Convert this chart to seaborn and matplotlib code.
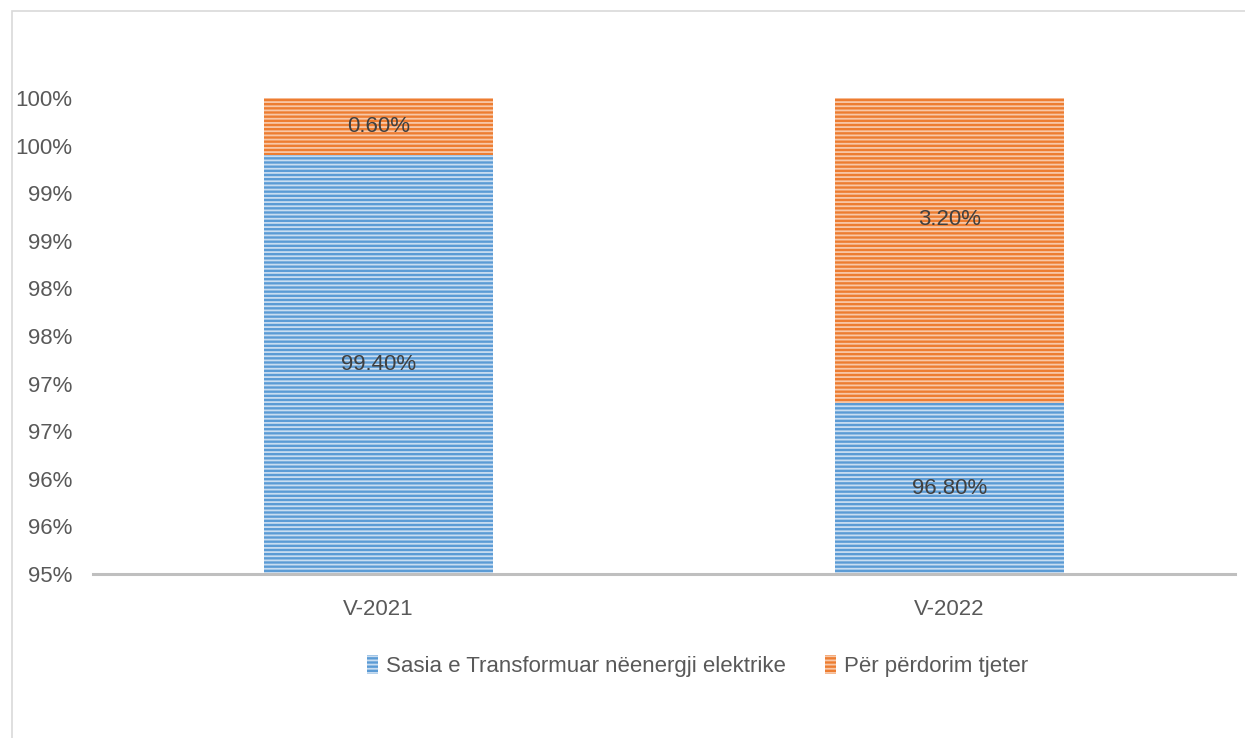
import matplotlib
matplotlib.use("Agg")
import matplotlib.pyplot as plt
import matplotlib.patches as mpatches
import matplotlib.ticker as mticker
import pandas as pd
import seaborn as sns

# data
years = ["V-2021", "V-2022"]
transformed = [99.4, 96.8]   # Sasia e Transformuar nëenergji elektrike
other = [0.6, 3.2]           # Për përdorim tjeter
series_names = ["Sasia e Transformuar nëenergji elektrike", "Për përdorim tjeter"]
y_ticks = [95, 95.5, 96, 96.5, 97, 97.5, 98, 98.5, 99, 99.5, 100]

blue = "#5B9BD5"
orange = "#ED7D31"
blue_hatch = "#C9DDF1"
orange_hatch = "#F8C8A8"
text_gray = "#595959"

sns.set_theme(style="white")
plt.rcParams["font.family"] = ["Liberation Sans", "DejaVu Sans"]
plt.rcParams["hatch.linewidth"] = 1.3

df = pd.DataFrame({"year": years, "transformed": transformed, "other": other})
df["total"] = df["transformed"] + df["other"]

fig = plt.figure(figsize=(12.45, 7.38), dpi=100)
ax = fig.add_axes([0.0747, 0.2222, 0.9173, 0.645])

# stacked bars: total first (orange), then the blue part on top of it
sns.barplot(data=df, x="year", y="total", color=orange, width=0.40, ax=ax,
            saturation=1, linewidth=0, hatch="----")
n = len(ax.patches)
sns.barplot(data=df, x="year", y="transformed", color=blue, width=0.40, ax=ax,
            saturation=1, linewidth=0, hatch="----")
for p in ax.patches[n:]:
    p.set_edgecolor(blue_hatch)
for p in ax.patches[:n]:
    p.set_edgecolor(orange_hatch)

ax.set_ylim(95, 100)
ax.set_yticks(y_ticks)
# excel style: rounds halves up
ax.yaxis.set_major_formatter(mticker.FuncFormatter(lambda v, _: f"{int(v + 0.5)}%"))
ax.set_xlim(-0.5, 1.5)
ax.set_xlabel("")
ax.set_ylabel("")
ax.tick_params(axis="both", length=0, labelsize=16, labelcolor=text_gray)
ax.tick_params(axis="y", pad=15)
ax.tick_params(axis="x", pad=18)

for side in ["top", "right", "left"]:
    ax.spines[side].set_visible(False)
ax.spines["bottom"].set_color("#BFBFBF")
ax.spines["bottom"].set_linewidth(2.2)

# data labels
lbl_blue_y = [97.2, 95.9]
lbl_orange_y = [99.7, 98.72]
for i in range(len(years)):
    ax.text(i, lbl_blue_y[i], f"{transformed[i]:.2f}%", ha="center", va="center",
            fontsize=16, color="#404040")
    ax.text(i, lbl_orange_y[i], f"{other[i]:.2f}%", ha="center", va="center",
            fontsize=16, color="#404040")

handles = [mpatches.Patch(facecolor=blue, edgecolor=blue_hatch, hatch="----", linewidth=0),
           mpatches.Patch(facecolor=orange, edgecolor=orange_hatch, hatch="----", linewidth=0)]
fig.legend(handles, series_names, loc="center", bbox_to_anchor=(0.5602, 0.097),
           ncol=2, frameon=False, fontsize=16, handlelength=0.5, handleheight=0.9,
           handletextpad=0.35, columnspacing=1.75, labelcolor=text_gray)

# chart area border (only left and top edges visible in the crop)
fig.add_artist(mpatches.Rectangle((12 / 1245, -0.1), 1.2, 1 - 11 / 738 + 0.1,
                                  transform=fig.transFigure, fill=False,
                                  edgecolor="#D9D9D9", linewidth=1.2))

fig.savefig("out.png", dpi=100)
